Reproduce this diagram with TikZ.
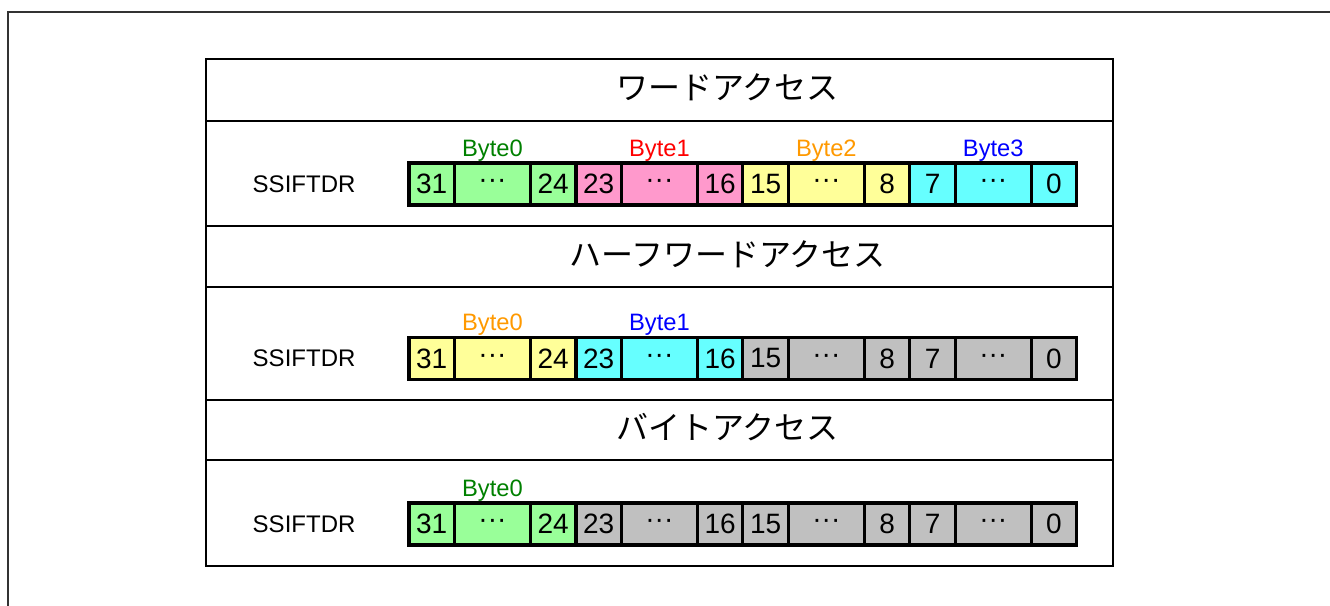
\documentclass[tikz,border=0pt]{standalone}
\usepackage{fontspec}
\setmainfont{Liberation Sans}
\newfontfamily\jpfont{Noto Sans CJK JP}
\usetikzlibrary{positioning}
\definecolor{cellgreen}{HTML}{99FF99}
\definecolor{cellpink}{HTML}{FF99CC}
\definecolor{cellyellow}{HTML}{FFFF99}
\definecolor{cellcyan}{HTML}{66FFFF}
\definecolor{cellgray}{HTML}{C0C0C0}
\definecolor{txtgreen}{HTML}{008000}
\definecolor{txtred}{HTML}{FF0000}
\definecolor{txtorange}{HTML}{FF9900}
\definecolor{txtblue}{HTML}{0000FF}
\tikzset{
  bit/.style={draw, line width=2.4pt, outer sep=0pt, inner sep=0pt, minimum width=34.1pt, minimum height=31.5pt, font=\fontsize{21}{21}\selectfont},
  widebit/.style={bit, minimum width=57pt},
  panel/.style={draw, line width=1.1pt, outer sep=0pt, inner sep=0pt, minimum width=680.25pt},
  title/.style={font=\jpfont\fontsize{24}{24}\selectfont, inner sep=0pt},
  regname/.style={font=\fontsize{18}{18}\selectfont, inner sep=0pt},
  bytename/.style={font=\fontsize{17.8}{17.8}\selectfont, inner sep=0pt}
}
\newcommand{\middots}{···}
% one 32-bit register: prefix, position, colours of the four bytes
\newcommand{\regcells}[6]{%
  \node[bit, fill=#3, anchor=west] (#1b31) at #2 {31};
  \node[widebit, fill=#3, right=0pt of #1b31] (#1d3) {\middots};
  \node[bit, fill=#3, right=0pt of #1d3] (#1b24) {24};
  \node[bit, fill=#4, right=0pt of #1b24] (#1b23) {23};
  \node[widebit, fill=#4, right=0pt of #1b23] (#1d2) {\middots};
  \node[bit, fill=#4, right=0pt of #1d2] (#1b16) {16};
  \node[bit, fill=#5, right=0pt of #1b16] (#1b15) {15};
  \node[widebit, fill=#5, right=0pt of #1b15] (#1d1) {\middots};
  \node[bit, fill=#5, right=0pt of #1d1] (#1b8) {8};
  \node[bit, fill=#6, right=0pt of #1b8] (#1b7) {7};
  \node[widebit, fill=#6, right=0pt of #1b7] (#1d0) {\middots};
  \node[bit, fill=#6, right=0pt of #1d0] (#1b0) {0};
  \node[regname, left=40pt of #1b31] (#1reg) {SSIFTDR};
}

\begin{document}
\begin{tikzpicture}[x=0.75pt, y=0.75pt]
  \useasboundingbox (0,0) rectangle (1330,-606);
  \draw[line width=0.8pt, black!80] (8,-606) |- (1330,-12);

  % panels
  \node[panel, minimum height=46.5pt, anchor=north west] (hdr1) at (206,-59) {};
  \node[panel, minimum height=78.75pt, below=0pt of hdr1] (row1) {};
  \node[panel, minimum height=45.75pt, below=0pt of row1] (hdr2) {};
  \node[panel, minimum height=84.75pt, below=0pt of hdr2] (row2) {};
  \node[panel, minimum height=45pt, below=0pt of row2] (hdr3) {};
  \node[panel, minimum height=79.5pt, below=0pt of hdr3] (row3) {};

  \node[title, xshift=51pt, yshift=2pt] (word) at (hdr1) {ワードアクセス};
  \node[title, xshift=51pt, yshift=2pt] (half) at (hdr2) {ハーフワードアクセス};
  \node[title, xshift=51pt, yshift=2pt] (byte) at (hdr3) {バイトアクセス};

  % word access
  \regcells{w}{(409,-184)}{cellgreen}{cellpink}{cellyellow}{cellcyan}
  \node[bytename, text=txtgreen, above=5pt of wd3, anchor=base] (wbyte0) {Byte0};
  \node[bytename, text=txtred, above=5pt of wd2, anchor=base] (wbyte1) {Byte1};
  \node[bytename, text=txtorange, above=5pt of wd1, anchor=base] (wbyte2) {Byte2};
  \node[bytename, text=txtblue, above=5pt of wd0, anchor=base] (wbyte3) {Byte3};

  % half-word access
  \regcells{h}{(409,-358.5)}{cellyellow}{cellcyan}{cellgray}{cellgray}
  \node[bytename, text=txtorange, above=5pt of hd3, anchor=base] (hbyte0) {Byte0};
  \node[bytename, text=txtblue, above=5pt of hd2, anchor=base] (hbyte1) {Byte1};

  % byte access
  \regcells{b}{(409,-524)}{cellgreen}{cellgray}{cellgray}{cellgray}
  \node[bytename, text=txtgreen, above=5pt of bd3, anchor=base] (bbyte0) {Byte0};
\end{tikzpicture}
\end{document}
